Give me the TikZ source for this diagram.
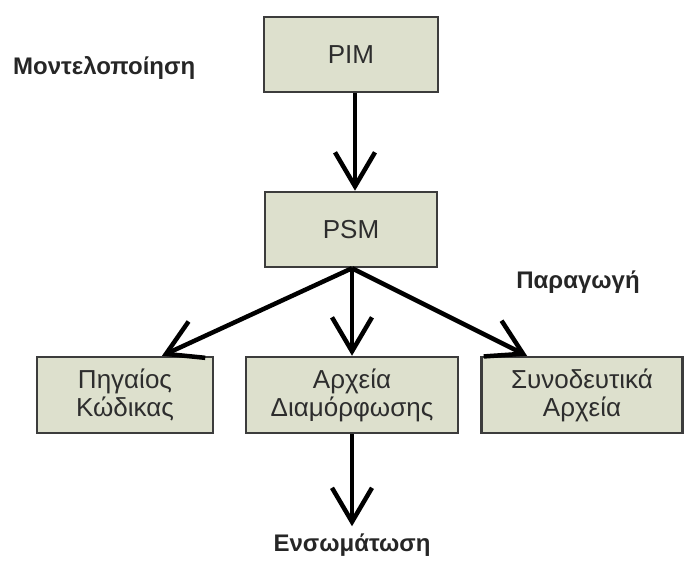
\documentclass[tikz,border=0pt]{standalone}
\usepackage{fontspec}
\setmainfont{Liberation Sans}
\usetikzlibrary{arrows.meta,calc}
\definecolor{boxfill}{RGB}{221,224,205}
\definecolor{boxline}{RGB}{60,60,60}
\definecolor{boxtext}{RGB}{45,45,45}
\tikzset{
  block/.style={draw=boxline, line width=2.5pt, fill=boxfill, text=boxtext,
    font=\fontsize{26}{28}\selectfont, align=center, inner sep=0pt},
  flow/.style={line width=4.5pt, -{Straight Barb[length=34pt,width=40pt]}},
  phase/.style={font=\bfseries\fontsize{24}{28}\selectfont, text=black!85, inner sep=0pt}
}
\begin{document}
\begin{tikzpicture}[x=1pt,y=-1pt]
  \useasboundingbox (0,0) rectangle (684,561);
  % model chain
  \node[block, minimum width=174pt, minimum height=75pt] (pim) at (351,54.5) {PIM};
  \node[block, minimum width=172pt, minimum height=75pt] (psm) at (351,229.5) {PSM};
  % generated artefacts
  \node[block, minimum width=176pt, minimum height=76pt] (code) at (125,395) {Πηγαίος\\Κώδικας};
  \node[block, minimum width=212pt, minimum height=76pt] (conf) at (352,395) {Αρχεία\\Διαμόρφωσης};
  \node[block, minimum width=201pt, minimum height=76pt] (docs) at (582,395) {Συνοδευτικά\\Αρχεία};
  % phase labels
  \node[phase, anchor=west] (lmodel) at (13,68) {Μοντελοποίηση};
  \node[phase] (lgen) at (578,282) {Παραγωγή};
  \node[phase] (lint) at (352,545) {Ενσωμάτωση};
  % arrow end points
  \coordinate (top) at ($(psm.north)+(4,0)$);
  \coordinate (ctip) at ($(code.north)+(37,0)$);
  \coordinate (dtip) at ($(docs.north)+(-55,0)$);
  \coordinate (src) at ($(psm.south)+(1,0)$);
  \coordinate (itip) at ($(conf.south)+(0,92)$);
  % connectors
  \draw[flow] (pim.south -| top) -- (top);
  \draw[flow] (src) -- (ctip);
  \draw[flow] (src) -- (conf.north);
  \draw[flow] (src) -- (dtip);
  \draw[flow] (conf.south) -- (itip);
\end{tikzpicture}
\end{document}
